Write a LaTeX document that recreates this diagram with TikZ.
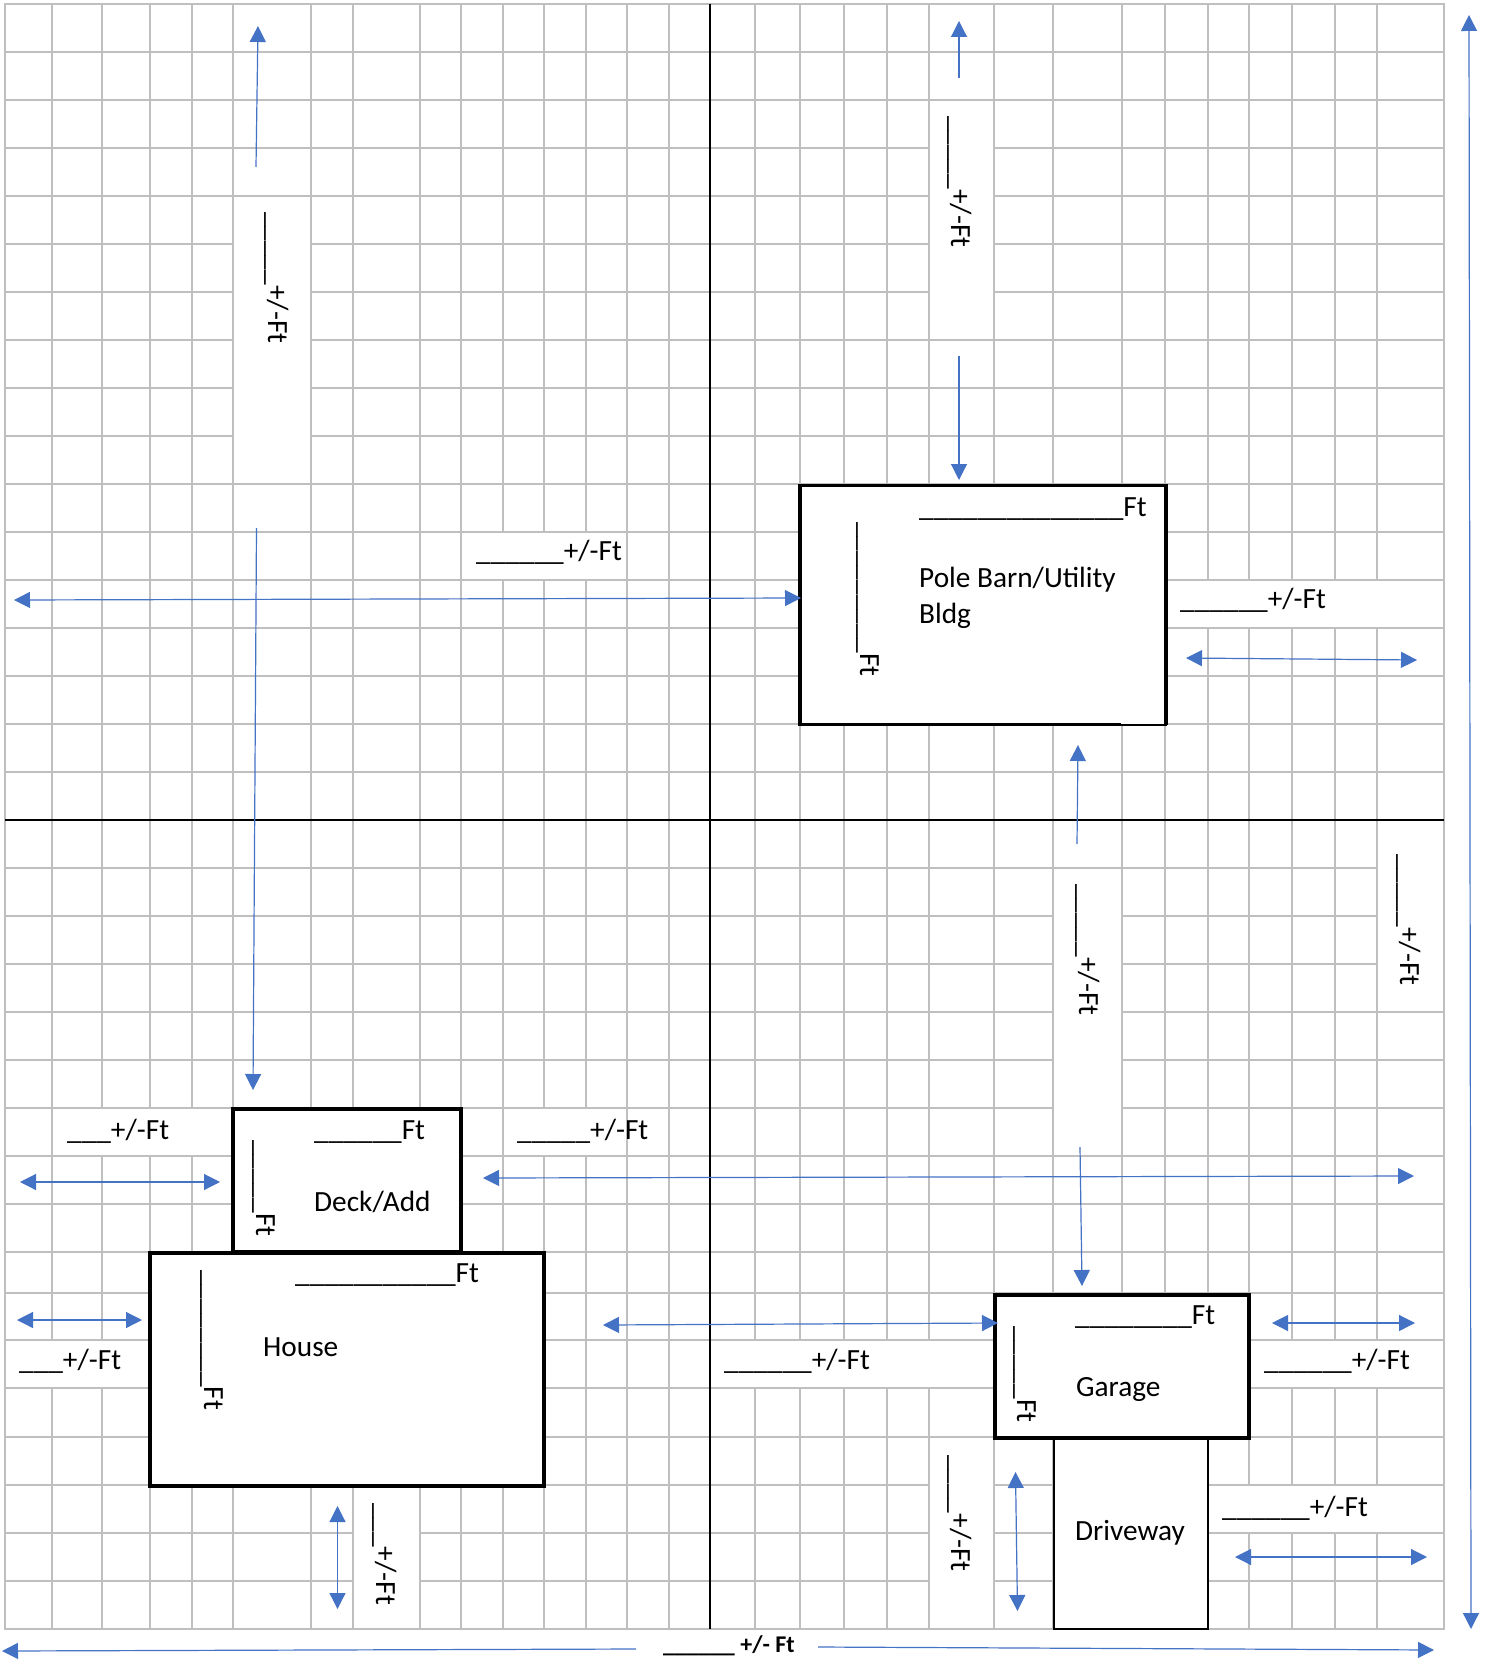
\documentclass[tikz,border=0pt]{standalone}
\usepackage{fontspec}
\setmainfont{Carlito}
\usetikzlibrary{arrows.meta}
\definecolor{gridgray}{HTML}{BFBFBF}
\definecolor{dimblue}{HTML}{4472C4}
\newcommand{\blank}[1]{\foreach\k in {1,...,#1}{\_}}
\tikzset{
  gridline/.style={draw=gridgray, line width=2pt},
  axisline/.style={draw=black, line width=2pt},
  maskbox/.style={fill=white, draw=none},
  bldg/.style={draw=black, fill=white, line width=3.6pt, anchor=north west, inner sep=0pt, outer sep=0pt},
  thinbldg/.style={bldg, line width=2pt},
  dim/.style={draw=dimblue, line width=1.2pt, >={Triangle[length=16pt,width=16pt]}},
  lbl/.style={anchor=base west, inner sep=0pt, font=\fontsize{29.3}{35}\selectfont},
  vlbl/.style={lbl, rotate=-90},
  boldlbl/.style={anchor=base west, inner sep=0pt, font=\fontsize{24}{28}\selectfont\bfseries}
}

\begin{document}
\begin{tikzpicture}[x=1pt, y=-1pt]
\useasboundingbox (0,0) rectangle (1489,1661);
\fill[white] (0,0) rectangle (1489,1661);

% grid
\foreach \gy in {4,52,100,148,196,244,292,340,388,436,484,532,580,628,676,724,772,820,868,916,964,1012,1060,1108,1156,1204,1252,1293,1340,1388,1437,1485,1533,1581,1629}
  \draw[gridline] (4,\gy) -- (1445,\gy);
\foreach \gx in {5,52,102,150,192,233,311,353,420,461,503,544,586,627,669,710,755,800,844,887,929,994,1053,1122,1165,1208,1249,1292,1335,1377,1444}
  \draw[gridline] (\gx,3) -- (\gx,1630);

% white text boxes over the grid
\foreach \xa/\ya/\xb/\yb in {233/196/311/484, 461/532/627/580, 929/100/994/340, 1165/580/1444/628,
    1053/868/1122/1156, 1377/820/1444/1012, 52/1108/233/1156, 503/1108/627/1156, 5/1340/150/1388,
    710/1340/994/1388, 1249/1340/1444/1388, 1208/1485/1444/1533, 929/1437/994/1629, 353/1486/420/1629}
  \fill[maskbox] (\xa+1,\ya+1) rectangle (\xb-1,\yb-1);

% axes
\draw[axisline] (710,4) -- (710,1629);
\draw[axisline] (5,820) -- (1444,820);

% buildings
\node[thinbldg, minimum width=366pt, minimum height=239pt] (polebarn) at (800,485.5) {};
\draw[draw=black, line width=3.6pt] (1121,724.5) -- (polebarn.south west) -- (polebarn.north west) -- (polebarn.north east) -- (polebarn.south east);
\node[thinbldg, minimum width=154pt, minimum height=191pt] (driveway) at (1054,1438) {};
\node[bldg, minimum width=228pt, minimum height=143pt] (deck) at (233,1109) {};
\node[bldg, minimum width=394pt, minimum height=233pt] (house) at (150,1253) {};
\node[bldg, minimum width=254pt, minimum height=143pt] (garage) at (995,1295) {};

% building names
\node[lbl] (poleName) at (919,587) {Pole Barn/Utility};
\node[lbl] (poleNameB) at (919,623) {Bldg};
\node[lbl] (deckName) at (314,1211) {Deck/Add};
\node[lbl] (houseName) at (263,1356) {House};
\node[lbl] (garageName) at (1076,1396) {Garage};
\node[lbl] (drivewayName) at (1075,1540) {Driveway};

% sizes written in the buildings
\node[lbl] (poleW) at (919,516) {\blank{14}Ft};
\node[vlbl] (poleD) at (860,522) {\blank{9}Ft};
\node[lbl] (deckW) at (314,1139) {\blank{6}Ft};
\node[vlbl] (deckD) at (256,1140) {\blank{5}Ft};
\node[lbl] (houseW) at (295,1282) {\blank{11}Ft};
\node[vlbl] (houseD) at (204,1270) {\blank{8}Ft};
\node[lbl] (garageW) at (1075,1324) {\blank{8}Ft};
\node[vlbl] (garageD) at (1017,1326) {\blank{5}Ft};

% distances
\node[lbl] (gapPole) at (476,560) {\blank{6}+/-Ft};
\node[lbl] (gapPoleR) at (1180,608) {\blank{6}+/-Ft};
\node[lbl] (gapDeckL) at (67,1139) {\blank{3}+/-Ft};
\node[lbl] (gapDeckR) at (517,1139) {\blank{5}+/-Ft};
\node[lbl] (gapHouseL) at (19,1369) {\blank{3}+/-Ft};
\node[lbl] (gapGarL) at (724,1369) {\blank{6}+/-Ft};
\node[lbl] (gapGarR) at (1264,1369) {\blank{6}+/-Ft};
\node[lbl] (gapDrive) at (1222,1516) {\blank{6}+/-Ft};
\node[vlbl] (upLeft) at (268,212) {\blank{5}+/-Ft};
\node[vlbl] (upPole) at (951,116) {\blank{5}+/-Ft};
\node[vlbl] (downPole) at (1079,884) {\blank{5}+/-Ft};
\node[vlbl] (sideR) at (1400,854) {\blank{5}+/-Ft};
\node[vlbl] (downHouse) at (376,1503) {\blank{3}+/-Ft};
\node[vlbl] (downGar) at (951,1455) {\blank{4}+/-Ft};
\node[boldlbl] (total) at (663,1652) {\blank{6} +/- Ft};

% arrows
\draw[dim, ->] (256,167) -- (258,26);
\draw[dim, ->] (256.5,528) -- (253,1090);
\draw[dim, <->] (14,600) -- (801,598);
\draw[dim, ->] (959,78) -- (959,21);
\draw[dim, ->] (959,356) -- (959,480);
\draw[dim, <->] (1186,658) -- (1417,660);
\draw[dim, ->] (1077,844) -- (1078,745);
\draw[dim, ->] (1080,1147) -- (1082,1286);
\draw[dim, <->] (20,1182) -- (220,1182);
\draw[dim, <->] (483,1178) -- (1414,1176);
\draw[dim, <->] (17,1320) -- (142,1320);
\draw[dim, <->] (603,1325) -- (998,1323);
\draw[dim, <->] (1272,1323) -- (1415,1323);
\draw[dim, <->] (337.5,1506) -- (337.5,1609);
\draw[dim, <->] (1015.5,1472) -- (1017.5,1611);
\draw[dim, <->] (1235,1557) -- (1427,1557);
\draw[dim, <->] (1469,15) -- (1471,1629);
\draw[dim, ->] (636,1649) -- (2,1651);
\draw[dim, ->] (818,1647) -- (1434,1650);
\end{tikzpicture}
\end{document}
